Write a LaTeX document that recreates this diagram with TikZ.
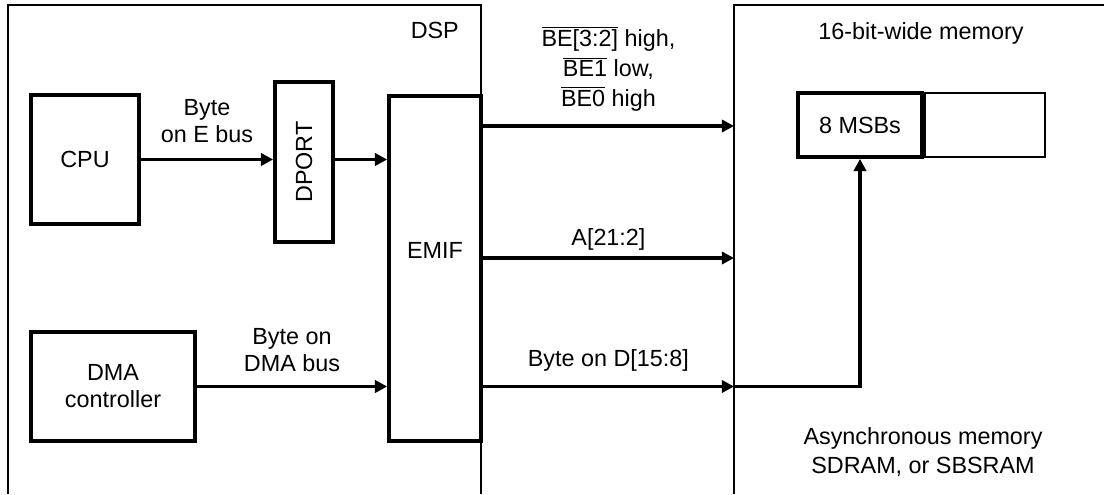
\documentclass[tikz,border=0pt]{standalone}
\usepackage{fontspec}
\setmainfont{Liberation Sans}
\usetikzlibrary{arrows.meta,positioning}

\tikzset{
  blocco/.style={draw, line width=2.1pt, inner sep=0pt, align=center},
  cornice/.style={draw=none, inner sep=0pt, outer sep=0pt},
  sottile/.style={line width=1.1pt},
  bus/.style={line width=2.2pt, -{Triangle[length=7pt,width=7pt]}},
  etich/.style={align=center, font=\fontsize{13.3}{15.3}\selectfont},
}
\newcommand{\negato}[1]{\ensuremath{\overline{\mbox{#1}}}}

\begin{document}
\begin{tikzpicture}[x=0.02cm, y=-0.02cm, font=\fontsize{13.3}{15.3}\selectfont]
        \useasboundingbox (0,0) rectangle (1104,494);
        % Cornici
        \node (dsp) [cornice, minimum width=9.46cm, minimum height=9.78cm] at (244.5,249.5) {};
        \node (mem) [cornice, minimum width=7.4cm, minimum height=9.78cm] at (919,249.5) {};
        \draw [sottile] (dsp.south west) |- (dsp.north east) -- (dsp.south east);
        \draw [sottile] (mem.south west) |- (mem.north east);
        \node (dsplab) [anchor=east] at (465,30) {DSP};
        \node (memlab) at (921,33) {16-bit-wide memory};
        \node (memtipo) [etich, font=\fontsize{13.3}{17}\selectfont] at (923,452) {Asynchronous memory\\SDRAM, or SBSRAM};
        % Blocchi
        \node (cpu) [blocco, minimum width=2.16cm, minimum height=2.58cm] at (85,159.5) {CPU};
        \node (dport) [blocco, minimum width=1.16cm, minimum height=3.2cm] at (304,162) {\rotatebox{90}{DPORT}};
        \node (emif) [blocco, minimum width=1.84cm, minimum height=6.9cm,
                      label={[yshift=0.36cm]center:EMIF}] at (435,268.5) {};
        \node (dma) [blocco, minimum width=3.28cm, minimum height=2.18cm] at (113,386.5) {DMA\\controller};
        \node (msb) [blocco, minimum width=2.48cm, minimum height=1.28cm] at (860,125) {8 MSBs};
        \node (lsb) [draw, sottile, minimum width=2.4cm, minimum height=1.28cm, right=0pt of msb] {};
        % Frecce
        \draw [bus] (cpu.east) -- (cpu.east -| dport.west)
              node [etich, midway, above=5pt] {Byte\\on E bus};
        \draw [bus] (dport.east |- cpu.east) -- (cpu.east -| emif.west);
        \draw [bus] (dma.east) -- (dma.east -| emif.west)
              node [etich, midway, above=4pt] {Byte on\\DMA bus};
        \draw [bus] (emif.east |- 0,126) -- (mem.west |- 0,126)
              node [etich, midway, above=4pt, font=\fontsize{13.3}{17}\selectfont]
              {\negato{BE[3:2]} high,\\\negato{BE1} low,\\\negato{BE0} high};
        \draw [bus] (emif.east |- 0,258) -- (mem.west |- 0,258)
              node [midway, above] {A[21:2]};
        \coordinate (dlow) at (mem.west |- dma.east);
        \draw [bus] (emif.east |- dma.east) -- (dlow)
              node [midway, above=4pt] {Byte on D[15:8]};
        \draw [bus] (dlow) -| (msb.south);
\end{tikzpicture}
\end{document}
